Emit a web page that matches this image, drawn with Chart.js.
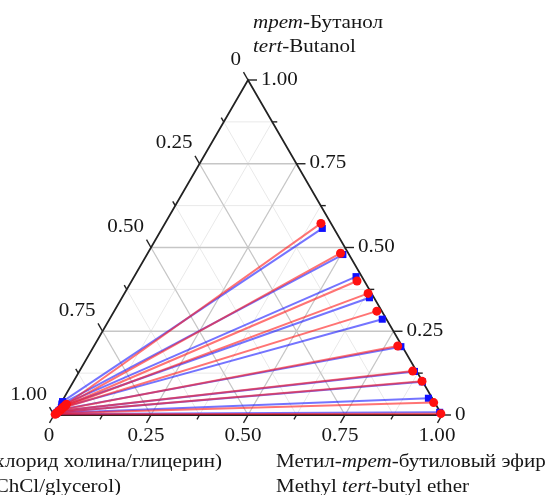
<!DOCTYPE html>
<html>
<head>
<meta charset="utf-8">
<script src="https://cdn.jsdelivr.net/npm/chart.js@4"></script>
<style>
  body { margin: 0; background: #fff; }
  #wrap { width: 551px; height: 495px; position: relative; }
</style>
</head>
<body>
<div id="wrap"><canvas id="ternary"></canvas></div>
<script>
// ternary axis ticks (fractions)
var tickValues = [0, 0.25, 0.5, 0.75, 1];
var tickLabels = ['0', '0.25', '0.50', '0.75', '1.00'];
var minorValues = [0.125, 0.375, 0.625, 0.875];

// tie lines: MTBE-rich phase (right end), fractions of MTBE and tert-butanol
var redTopMTBE  = [0.402, 0.497, 0.581, 0.628, 0.677, 0.783, 0.859, 0.898, 0.960, 0.995];
var redTopTBA   = [0.572, 0.483, 0.400, 0.363, 0.310, 0.206, 0.131, 0.101, 0.037, 0.004];
var blueTopMTBE = [0.413, 0.505, 0.572, 0.638, 0.703, 0.792, 0.864, 0.900, 0.940, 0.990];
var blueTopTBA  = [0.557, 0.479, 0.413, 0.350, 0.286, 0.204, 0.130, 0.099, 0.050, 0.008];

// DES-rich phase (left end)
var redBotMTBE  = [0.016, 0.015, 0.014, 0.012, 0.011, 0.009, 0.007, 0.005, 0.004, 0.002];
var redBotTBA   = [0.032, 0.029, 0.026, 0.023, 0.020, 0.015, 0.012, 0.008, 0.005, 0.002];
var blueBotMTBE = [0.002, 0.004, 0.006, 0.008, 0.008, 0.008, 0.006, 0.005, 0.004, 0.002];
var blueBotTBA  = [0.040, 0.033, 0.030, 0.026, 0.022, 0.016, 0.012, 0.008, 0.006, 0.003];

var SQ3 = Math.sqrt(3);
function toXY(m, t) { return { x: m + t / 2, y: t * SQ3 / 2 }; }

// first datasets are painted on top in Chart.js, so red goes first
var datasets = [];
function addTies(botM, botT, topM, topT, line, fill, style, r) {
  for (var i = 0; i < topM.length; i++) {
    datasets.push({
      data: [toXY(botM[i], botT[i]), toXY(topM[i], topT[i])],
      showLine: true,
      borderColor: line,
      borderWidth: 2,
      pointStyle: style,
      pointRadius: r,
      pointBackgroundColor: fill,
      pointBorderWidth: 0,
      clip: false
    });
  }
}
addTies(redBotMTBE, redBotTBA, redTopMTBE, redTopTBA, 'rgba(255,30,30,0.62)', '#ff1010', 'circle', 4.5);
addTies(blueBotMTBE, blueBotTBA, blueTopMTBE, blueTopTBA, 'rgba(30,30,255,0.62)', '#1010ff', 'rect', 5);

var FONT = '"Liberation Serif", "Times New Roman", serif';
var SX = 1.17;
var INK = '#161616';

function px(chart, m, t) {
  var p = toXY(m, t);
  return [chart.scales.x.getPixelForValue(p.x), chart.scales.y.getPixelForValue(p.y)];
}
function seg(ctx, a, b) {
  ctx.beginPath(); ctx.moveTo(a[0], a[1]); ctx.lineTo(b[0], b[1]); ctx.stroke();
}
function rich(ctx, parts, x, y, align) {
  var w = 0, i;
  for (i = 0; i < parts.length; i++) {
    ctx.font = (parts[i][1] ? 'italic ' : '') + '18px ' + FONT;
    w += ctx.measureText(parts[i][0]).width;
  }
  var x0 = x;
  if (align === 'right') x0 = x - w * SX;
  if (align === 'center') x0 = x - w * SX / 2;
  ctx.save();
  ctx.translate(x0, y);
  ctx.scale(SX, 1);
  ctx.fillStyle = INK;
  ctx.textBaseline = 'middle';
  ctx.textAlign = 'left';
  var cx = 0;
  for (i = 0; i < parts.length; i++) {
    ctx.font = (parts[i][1] ? 'italic ' : '') + '18px ' + FONT;
    ctx.fillText(parts[i][0], cx, 0);
    cx += ctx.measureText(parts[i][0]).width;
  }
  ctx.restore();
}

var ternaryFrame = {
  id: 'ternaryFrame',
  beforeDatasetsDraw: function (chart) {
    var ctx = chart.ctx;
    ctx.save();
    var levels = minorValues.concat(tickValues.slice(1, 4));
    levels.forEach(function (v) {
      var major = tickValues.indexOf(v) >= 0;
      ctx.strokeStyle = major ? '#c6c6c6' : '#e9e9e9';
      ctx.lineWidth = major ? 1.3 : 1;
      seg(ctx, px(chart, 0, v), px(chart, 1 - v, v));
      seg(ctx, px(chart, v, 0), px(chart, v, 1 - v));
      seg(ctx, px(chart, 1 - v, 0), px(chart, 0, 1 - v));
    });
    // outline
    var A = px(chart, 0, 0), B = px(chart, 1, 0), C = px(chart, 0, 1);
    ctx.strokeStyle = '#222';
    ctx.lineWidth = 1.8;
    ctx.beginPath();
    ctx.moveTo(A[0], A[1]); ctx.lineTo(B[0], B[1]); ctx.lineTo(C[0], C[1]); ctx.closePath();
    ctx.stroke();
    // ticks
    ctx.lineWidth = 1.4;
    var all = tickValues.concat(minorValues);
    all.forEach(function (v) {
      var len = tickValues.indexOf(v) >= 0 ? 9 : 5;
      var b = px(chart, v, 0);
      seg(ctx, b, [b[0] - len * 0.5, b[1] + len * 0.866]);
      var r = px(chart, 1 - v, v);
      seg(ctx, r, [r[0] + len, r[1]]);
      var l = px(chart, 0, 1 - v);
      seg(ctx, l, [l[0] - len * 0.5, l[1] - len * 0.866]);
    });
    ctx.restore();
  },
  afterDraw: function (chart) {
    var ctx = chart.ctx;
    tickValues.forEach(function (v, i) {
      var b = px(chart, v, 0);
      rich(ctx, [[tickLabels[i], false]], b[0] - 5, b[1] + 21, 'center');
      var r = px(chart, 1 - v, v);
      rich(ctx, [[tickLabels[i], false]], r[0] + 13, r[1], 'left');
      var l = px(chart, 0, 1 - v);
      rich(ctx, [[tickLabels[i], false]], l[0] - 7, l[1] - 20, 'right');
    });
    rich(ctx, [['трет', true], ['-Бутанол', false]], 253, 23, 'left');
    rich(ctx, [['tert', true], ['-Butanol', false]], 253, 47, 'left');
    rich(ctx, [['(хлорид холина/глицерин)', false]], 222, 462, 'right');
    rich(ctx, [['(ChCl/glycerol)', false]], 121, 487, 'right');
    rich(ctx, [['Метил-', false], ['трет', true], ['-бутиловый эфир', false]], 276, 462, 'left');
    rich(ctx, [['Methyl ', false], ['tert', true], ['-butyl ether', false]], 276, 487, 'left');
  }
};

new Chart(document.getElementById('ternary'), {
  type: 'scatter',
  data: { datasets: datasets },
  options: {
    responsive: true,
    maintainAspectRatio: false,
    animation: false,
    layout: { padding: { left: 54, right: 109, top: 80, bottom: 80 } },
    plugins: { legend: { display: false }, tooltip: { enabled: false } },
    scales: {
      x: { type: 'linear', min: 0, max: 1, display: false },
      y: { type: 'linear', min: 0, max: SQ3 / 2, display: false }
    }
  },
  plugins: [ternaryFrame]
});
</script>
</body>
</html>
